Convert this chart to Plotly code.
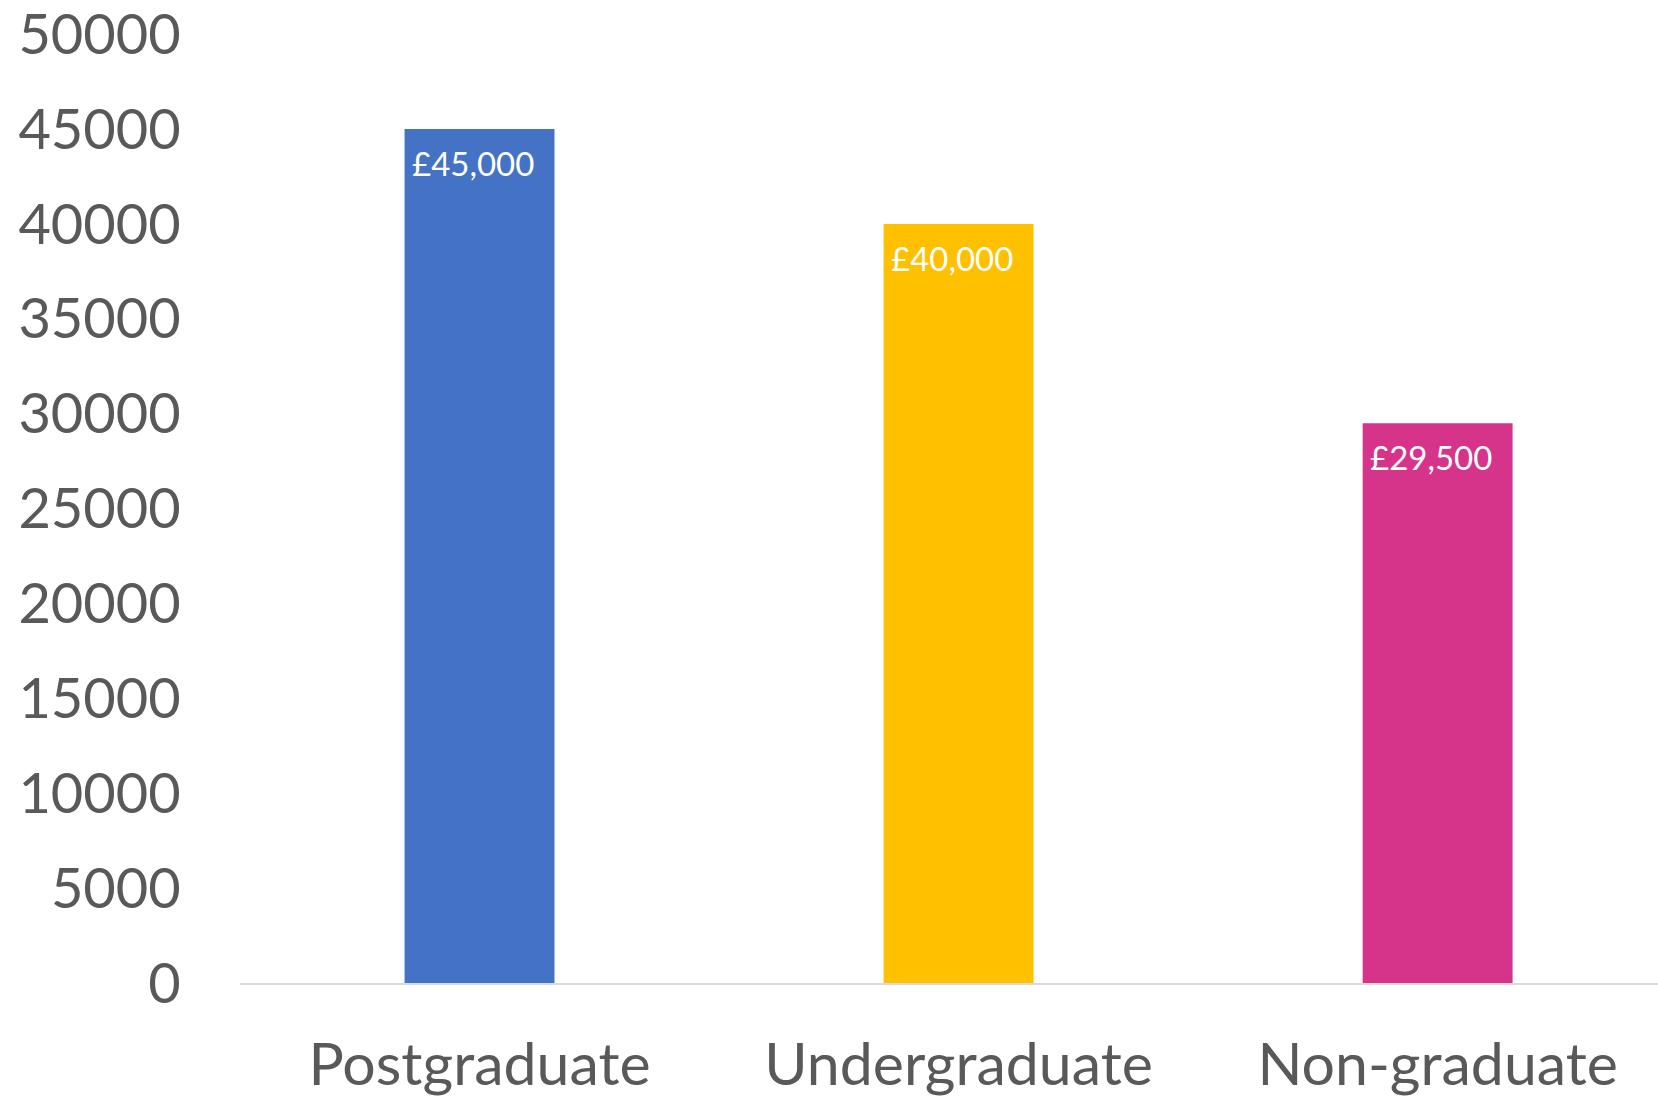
import plotly.graph_objects as go

categories = ["Postgraduate", "Undergraduate", "Non-graduate"]
salaries = [45000, 40000, 29500]
labels = ["£45,000", "£40,000", "£29,500"]
colors = ["#4472C4", "#FFC000", "#D6338A"]
y_ticks = list(range(0, 50001, 5000))

fig = go.Figure(go.Bar(
    x=categories, y=salaries,
    marker=dict(color=colors, line=dict(width=0)),
    width=0.313,
))

for cat, val, lab in zip(categories, salaries, labels):
    fig.add_annotation(
        x=cat, y=val, text=lab, showarrow=False,
        yanchor="middle", xanchor="center", yshift=-34, xshift=-7,
        font=dict(family="Lato", size=33, color="white"),
    )

fig.update_layout(
    width=1658, height=1098,
    margin=dict(l=240, r=0, t=34, b=115, autoexpand=False),
    plot_bgcolor="white", paper_bgcolor="white",
    showlegend=False,
    font=dict(family="Lato", color="#595959"),
)
fig.update_yaxes(
    range=[0, 50010], tickvals=y_ticks, ticktext=[str(v) for v in y_ticks],
    showgrid=False, zeroline=False, showline=False, automargin=False,
    ticklabeloverflow="allow",
    ticks="outside", ticklen=47, tickcolor="rgba(0,0,0,0)",
    tickfont=dict(size=56, color="#595959"),
)
fig.update_xaxes(
    range=[-0.5, 2.46],
    showgrid=False, showline=True, linecolor="#D9D9D9", linewidth=2,
    automargin=False, ticklabeloverflow="allow",
    ticks="outside", ticklen=29, tickcolor="rgba(0,0,0,0)",
    tickfont=dict(size=59, color="#595959"),
)

fig.write_html(
    "out.html",
    config={"displayModeBar": False},
    post_script="document.body.style.margin='0';document.body.style.overflow='hidden';",
)
